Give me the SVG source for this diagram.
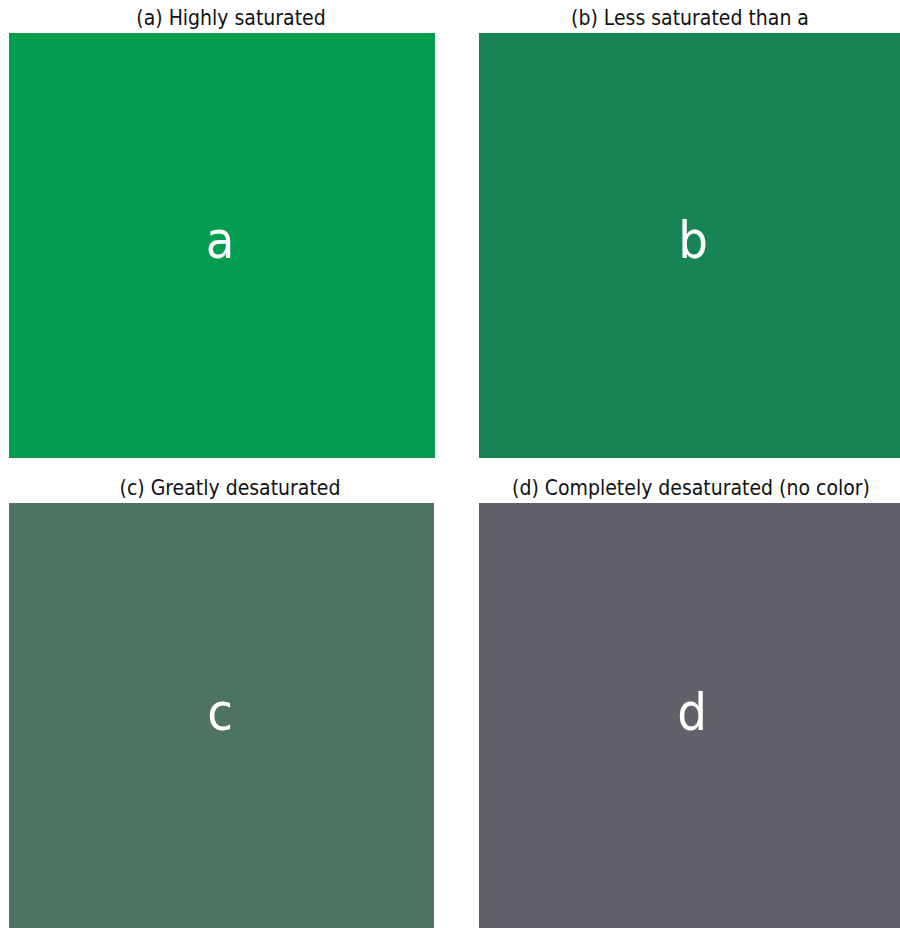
<svg xmlns="http://www.w3.org/2000/svg" width="900" height="928" viewBox="0 0 900 928">
<style>
.cap{font-family:"Liberation Sans Narrow","DejaVu Sans Condensed","Liberation Sans",sans-serif;font-size:21px;fill:#111;text-anchor:middle}
.big{font-family:"Liberation Sans Narrow","DejaVu Sans Condensed","Liberation Sans",sans-serif;font-size:52px;fill:#fff;text-anchor:middle}
</style>
<rect width="900" height="928" fill="#fff"/>
<g id="a">
<text class="cap" x="231" y="25">(a) Highly saturated</text>
<rect x="9" y="33" width="426" height="425" fill="#049d4f"/>
<text class="big" x="220" y="258">a</text>
</g>
<g id="b">
<text class="cap" x="690" y="25">(b) Less saturated than a</text>
<rect x="479" y="33" width="421" height="425" fill="#178455"/>
<text class="big" x="693" y="258">b</text>
</g>
<g id="c">
<text class="cap" x="230" y="495">(c) Greatly desaturated</text>
<rect x="9" y="503" width="425" height="425" fill="#4e7562"/>
<text class="big" x="220" y="730">c</text>
</g>
<g id="d">
<text class="cap" x="691" y="495">(d) Completely desaturated (no color)</text>
<rect x="479" y="503" width="421" height="425" fill="#62616b"/>
<text class="big" x="692" y="730">d</text>
</g>
</svg>
